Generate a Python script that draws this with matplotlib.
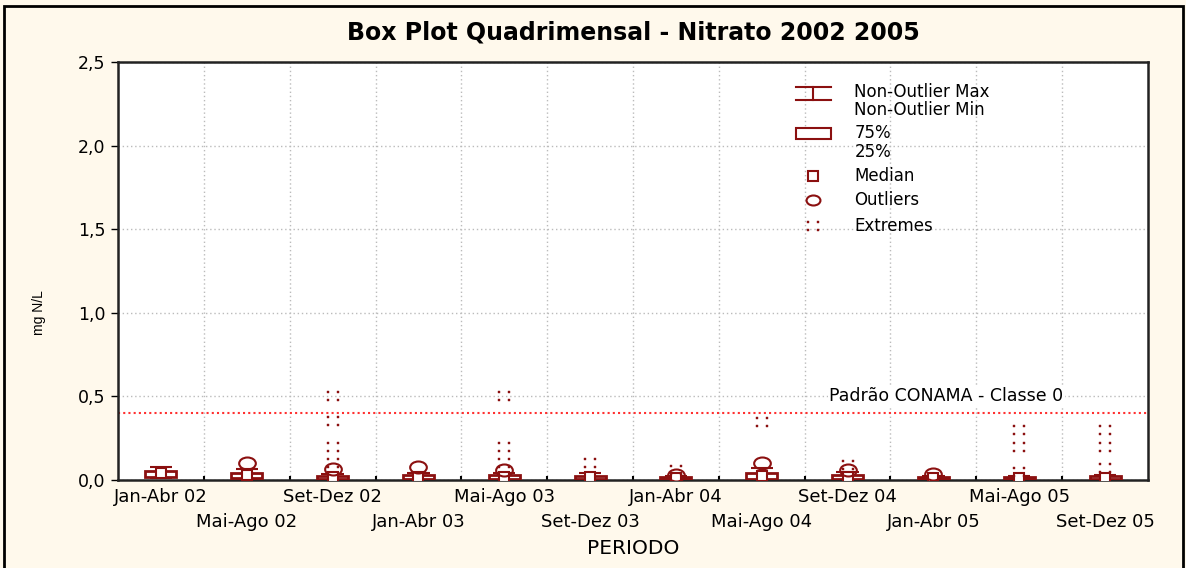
"""Box plot quadrimensal de nitrato (2002-2005), estilo Statistica."""
import matplotlib
matplotlib.use("Agg")
import matplotlib.pyplot as plt
from matplotlib.patches import Rectangle
from matplotlib.path import Path
import numpy as np

plt.rcParams['font.family'] = ['DejaVu Sans']

# ---- dados (mg N/L) ----
periodos = ["Jan-Abr 02", "Mai-Ago 02", "Set-Dez 02", "Jan-Abr 03",
            "Mai-Ago 03", "Set-Dez 03", "Jan-Abr 04", "Mai-Ago 04",
            "Set-Dez 04", "Jan-Abr 05", "Mai-Ago 05", "Set-Dez 05"]
mediana = [0.040, 0.030, 0.015, 0.020, 0.020, 0.020, 0.012, 0.025, 0.020, 0.012, 0.012, 0.012]
q25 = [0.020, 0.010, 0.005, 0.005, 0.005, 0.005, 0.005, 0.005, 0.005, 0.005, 0.005, 0.005]
q75 = [0.055, 0.044, 0.025, 0.030, 0.030, 0.026, 0.020, 0.040, 0.030, 0.020, 0.020, 0.022]
min_nao_outlier = [0.010, 0.005, 0.000, 0.000, 0.000, 0.000, 0.000, 0.000, 0.000, 0.000, 0.000, 0.000]
max_nao_outlier = [0.078, 0.064, 0.035, 0.044, 0.040, 0.044, 0.025, 0.070, 0.050, 0.025, 0.025, 0.030]
outliers = [[], [0.10], [0.065], [0.075], [0.06], [], [0.03], [0.10], [0.06], [0.035], [], []]
extremos = [[], [], [0.50, 0.35, 0.20, 0.10], [], [0.50, 0.20, 0.10], [0.10], [0.06],
            [0.345], [0.09], [], [0.30, 0.20, 0.05], [0.30, 0.20, 0.07]]
y_ticks = [0.0, 0.5, 1.0, 1.5, 2.0, 2.5]
padrao_conama = 0.4

COR = "#8B1010"
FUNDO = "#FFF9EC"


# marcador "extremo": 4 pontinhos (2x2)
def _extreme_marker():
    verts, codes = [], []
    s = 0.18
    for cx in (-1, 1):
        for cy in (-0.7, 0.7):
            sq = [(cx - s, cy - s), (cx + s, cy - s), (cx + s, cy + s), (cx - s, cy + s), (cx - s, cy - s)]
            verts += sq
            codes += [Path.MOVETO] + [Path.LINETO] * 3 + [Path.CLOSEPOLY]
    return Path(verts, codes)


EXT = _extreme_marker()
# círculo "esticado" na horizontal, como no original
_c = Path.unit_circle()
OVAL = Path(_c.vertices * [1.0, 0.72], _c.codes)

fig = plt.figure(figsize=(11.86, 5.68), dpi=100, facecolor=FUNDO)
ax = fig.add_axes([118 / 1186, 88 / 568, 1030 / 1186, 418 / 568])
ax.set_facecolor("white")

x = np.arange(len(periodos))
bw, cw = 0.36, 0.26

ax.axhline(padrao_conama, color="#FF3030", ls=(0, (1, 1.5)), lw=1.5, zorder=2)
ax.text(9.15, 0.5, "Padrão CONAMA - Classe 0", ha="center", va="center", fontsize=12.5,
        bbox=dict(facecolor="white", edgecolor="none", pad=1), zorder=3)

for i in x:
    ax.vlines(i, q75[i], max_nao_outlier[i], color=COR, lw=1.5, zorder=4)
    ax.vlines(i, min_nao_outlier[i], q25[i], color=COR, lw=1.5, zorder=4)
    ax.hlines([max_nao_outlier[i], min_nao_outlier[i]], i - cw / 2, i + cw / 2, color=COR, lw=1.5, zorder=4)
    ax.add_patch(Rectangle((i - bw / 2, q25[i]), bw, q75[i] - q25[i], facecolor="white",
                           edgecolor=COR, lw=2, zorder=5))
    ax.plot(i, mediana[i], marker="s", ms=7, mfc="white", mec=COR, mew=1.5, zorder=6)
    if outliers[i]:
        ax.plot([i] * len(outliers[i]), outliers[i], ls="none", marker=OVAL, ms=12,
                mfc="none", mec=COR, mew=1.5, zorder=6)
    if extremos[i]:
        ax.plot([i] * len(extremos[i]), extremos[i], ls="none", marker=EXT, ms=9,
                mfc=COR, mec=COR, mew=0.3, zorder=6)

ax.set_xlim(-0.5, len(periodos) - 0.5)
ax.set_ylim(0, 2.5)
ax.set_yticks(y_ticks)
ax.set_yticklabels([f"{v:.1f}".replace(".", ",") for v in y_ticks], fontsize=12.5)
ax.set_xticks(x)
ax.set_xticklabels(periodos, fontsize=13)
for i, t in enumerate(ax.xaxis.get_major_ticks()):
    t.set_pad(6 if i % 2 == 0 else 24)
ax.tick_params(axis="x", which="major", length=0)
ax.set_xticks(x[:-1] + 0.5, minor=True)
ax.tick_params(axis="x", which="minor", direction="in", length=3, width=1.5)
ax.tick_params(axis="y", direction="out", length=5, width=1, pad=4)
ax.grid(True, axis="y", which="major", color="#BBBBBB", ls=(0, (1, 2)), lw=1)
ax.grid(True, axis="x", which="minor", color="#BBBBBB", ls=(0, (1, 2)), lw=1)
for s in ax.spines.values():
    s.set_linewidth(1.8)
    s.set_color("#222222")

ax.set_ylabel("mg N/L", fontsize=10, family="Liberation Sans")
ax.yaxis.set_label_coords(-0.07, 0.40)
ax.set_xlabel("PERIODO", fontsize=14.5)
ax.xaxis.set_label_coords(0.5, -0.14)
ax.set_title("Box Plot Quadrimensal - Nitrato 2002 2005", fontsize=17, fontweight="bold", pad=16)

# legenda manual (coordenadas do eixo)
lx, tx = 0.675, 0.715
tr = ax.transAxes
ax.plot([lx - 0.017, lx + 0.017], [0.940, 0.940], color=COR, lw=1.5, transform=tr)
ax.plot([lx - 0.017, lx + 0.017], [0.909, 0.909], color=COR, lw=1.5, transform=tr)
ax.plot([lx, lx], [0.909, 0.940], color=COR, lw=1.5, transform=tr)
ax.add_patch(Rectangle((lx - 0.017, 0.815), 0.034, 0.028, facecolor="white", edgecolor=COR,
                       lw=1.5, transform=tr, zorder=5))
ax.plot(lx, 0.727, marker="s", ms=7, mfc="white", mec=COR, mew=1.5, transform=tr)
ax.plot(lx, 0.670, marker=OVAL, ms=10, mfc="none", mec=COR, mew=1.5, transform=tr)
ax.plot(lx, 0.607, marker=EXT, ms=9, mfc=COR, mec=COR, mew=0.3, transform=tr)
for yy, lab in [(0.928, "Non-Outlier Max"), (0.884, "Non-Outlier Min"), (0.830, "75%"),
                (0.785, "25%"), (0.727, "Median"), (0.670, "Outliers"), (0.607, "Extremes")]:
    ax.text(tx, yy, lab, transform=tr, fontsize=12, va="center", ha="left")

# moldura da figura
fig.add_artist(Rectangle((4 / 1186, -0.02), 1179 / 1186, 1 - 6 / 568 + 0.02, transform=fig.transFigure,
                         fill=False, edgecolor="black", lw=2))

fig.savefig("out.png", dpi=100, facecolor=FUNDO)
plt.close(fig)
